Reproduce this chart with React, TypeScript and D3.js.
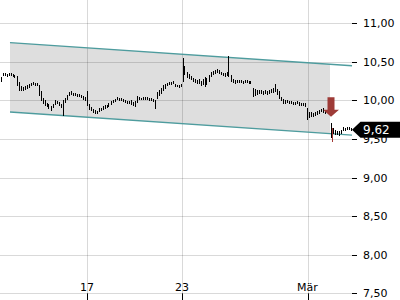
import React from "react";
import * as d3 from "d3";

const W = 400;
const H = 300;

// per-bar highs and lows (index = bar number)
const highs: number[] = [
  10.30, 10.36, 10.36, 10.34, 10.36, 10.36, 10.34, 10.33, 10.32, 10.24,
  10.19, 10.17, 10.19, 10.20, 10.21, 10.23, 10.24, 10.23, 10.23, 10.20,
  10.12, 10.03, 10.01, 9.97, 9.95, 9.93, 9.95, 10.01, 9.99, 9.98,
  9.95, 10.01, 10.03, 10.07, 10.11, 10.12, 10.10, 10.10, 10.08, 10.08,
  10.07, 10.06, 10.04, 10.12, 9.95, 9.92, 9.89, 9.88, 9.86, 9.90,
  9.90, 9.93, 9.94, 9.94, 9.97, 9.99, 10.01, 10.02, 10.04, 10.03,
  10.03, 10.02, 10.01, 9.99, 9.99, 10.01, 9.98, 9.99, 10.06, 10.04,
  10.03, 10.04, 10.04, 10.04, 10.03, 10.03, 10.02, 10.01, 10.11, 10.14,
  10.16, 10.20, 10.21, 10.23, 10.24, 10.24, 10.25, 10.21, 10.20, 10.20,
  10.21, 10.55, 10.45, 10.37, 10.34, 10.32, 10.29, 10.28, 10.27, 10.28,
  10.25, 10.28, 10.30, 10.29, 10.33, 10.37, 10.38, 10.40, 10.41, 10.40,
  10.37, 10.36, 10.36, 10.37, 10.58, 10.33, 10.28, 10.27, 10.27, 10.27,
  10.27, 10.25, 10.27, 10.27, 10.25, 10.25, 10.16, 10.15, 10.14, 10.14,
  10.14, 10.12, 10.14, 10.12, 10.14, 10.15, 10.16, 10.21, 10.15, 10.12,
  10.04, 10.02, 10.01, 10.01, 9.99, 9.99, 9.98, 9.98, 9.99, 9.98,
  9.97, 9.97, 9.97, 9.90, 9.85, 9.85, 9.84, 9.85, 9.86, 9.88,
  9.89, 9.90, 9.86, 9.88, 9.86, 9.71, 9.64, 9.62, 9.60, 9.60,
  9.62, 9.66, 9.64, 9.66, 9.66, 9.64,
];
const lows: number[] = [
  10.24, 10.32, 10.32, 10.30, 10.32, 10.32, 10.30, 10.29, 10.19, 10.12,
  10.12, 10.12, 10.14, 10.15, 10.16, 10.19, 10.20, 10.19, 10.19, 10.06,
  9.99, 9.95, 9.93, 9.92, 9.89, 9.86, 9.90, 9.94, 9.95, 9.93,
  9.90, 9.80, 9.97, 10.01, 10.06, 10.07, 10.06, 10.06, 10.04, 10.04,
  10.03, 10.01, 9.99, 9.93, 9.88, 9.86, 9.84, 9.82, 9.82, 9.85,
  9.86, 9.88, 9.89, 9.90, 9.92, 9.94, 9.97, 9.98, 10.01, 9.99,
  9.99, 9.98, 9.97, 9.95, 9.95, 9.94, 9.93, 9.92, 9.97, 10.01,
  10.01, 10.01, 10.01, 10.01, 9.99, 9.99, 9.98, 9.89, 10.02, 10.06,
  10.08, 10.12, 10.15, 10.19, 10.20, 10.20, 10.21, 10.17, 10.17, 10.16,
  10.17, 10.24, 10.33, 10.29, 10.28, 10.27, 10.24, 10.23, 10.21, 10.21,
  10.19, 10.20, 10.17, 10.20, 10.24, 10.30, 10.33, 10.34, 10.36, 10.34,
  10.33, 10.32, 10.30, 10.32, 10.30, 10.24, 10.23, 10.21, 10.23, 10.23,
  10.23, 10.21, 10.23, 10.23, 10.21, 10.21, 10.04, 10.06, 10.07, 10.08,
  10.08, 10.07, 10.08, 10.07, 10.08, 10.10, 10.10, 10.11, 10.07, 10.02,
  9.99, 9.95, 9.95, 9.97, 9.95, 9.95, 9.94, 9.94, 9.95, 9.93,
  9.93, 9.93, 9.92, 9.75, 9.77, 9.78, 9.78, 9.80, 9.81, 9.82,
  9.85, 9.84, 9.82, 9.84, 9.82, 9.51, 9.57, 9.55, 9.55, 9.54,
  9.57, 9.60, 9.60, 9.62, 9.62, 9.60,
];

const yTicks: number[] = [11.0, 10.5, 10.0, 9.5, 9.0, 8.5, 8.0, 7.5];
const xTickLabels: string[] = ["17", "23", "Mär"];
const xTickIndex: number[] = [43, 90.5, 153.25];

// trend channel [index, top, bottom]
const channelStart: number[] = [4.5, 10.75, 9.85];
const channelEnd: number[] = [175.5, 10.45, 9.55];
const channelFillEndIndex = 164.5;

// sell signal
const signalIndex = 165;
const signalArrowTop = 10.04;
const signalArrowTip = 9.79;
const signalBar: number[] = [165.5, 9.64, 9.46];

const lastPrice = 9.62;
const lastPriceLabel = "9,62";

const FONT = "DejaVu Sans, sans-serif";

export default function App() {
  const plotRight = 352;
  const x = d3.scaleLinear().domain([-0.5, 175.5]).range([0, plotRight]);
  const y = d3.scaleLinear().domain([7.5, 11]).range([293.3, 23.3]);
  const fmt = (v: number) => d3.format(".2f")(v).replace(".", ",");

  const chanAt = (i: number, k: 1 | 2) =>
    channelStart[k] + ((channelEnd[k] - channelStart[k]) * (i - channelStart[0])) / (channelEnd[0] - channelStart[0]);

  const fillPts: [number, number][] = [
    [x(channelStart[0]), y(channelStart[1])],
    [x(channelFillEndIndex), y(chanAt(channelFillEndIndex, 1))],
    [x(channelFillEndIndex), y(chanAt(channelFillEndIndex, 2))],
    [x(channelStart[0]), y(channelStart[2])],
  ];
  const fillPath = d3.line()(fillPts) + "Z";

  const ax = x(signalIndex);
  const ayTop = y(signalArrowTop);
  const ayTip = y(signalArrowTip);
  const headH = 7;
  const arrowPath = [
    `M${ax - 3.5},${ayTop}`,
    `L${ax + 3.5},${ayTop}`,
    `L${ax + 3.5},${ayTip - headH}`,
    `L${ax + 8},${ayTip - headH}`,
    `L${ax},${ayTip}`,
    `L${ax - 8},${ayTip - headH}`,
    `L${ax - 3.5},${ayTip - headH}`,
    "Z",
  ].join(" ");

  const ly = y(lastPrice);
  const labelPath = `M${plotRight},${ly} L${plotRight + 8.5},${ly - 8} L${W},${ly - 8} L${W},${ly + 8} L${plotRight + 8.5},${ly + 8} Z`;

  const crisp = (v: number) => Math.round(v) + 0.5;

  return (
    <svg
      width={W}
      height={H}
      style={{ position: "absolute", left: 0, top: 0, background: "#fff" }}
      fontFamily={FONT}
    >
      {/* channel fill */}
      <path d={fillPath} fill="#dedede" />

      {/* grid */}
      {yTicks.map((t) => (
        <line key={"g" + t} x1={0} x2={plotRight} y1={crisp(y(t))} y2={crisp(y(t))} stroke="#000" strokeOpacity={0.15} />
      ))}
      {xTickIndex.map((t, k) => (
        <line key={"v" + k} x1={crisp(x(t))} x2={crisp(x(t))} y1={0} y2={y(7.5)} stroke="#000" strokeOpacity={0.15} />
      ))}

      {/* channel lines */}
      <line
        x1={x(channelStart[0])}
        y1={y(channelStart[1])}
        x2={x(channelEnd[0])}
        y2={y(channelEnd[1])}
        stroke="#4e9c9e"
        strokeWidth={1.3}
      />
      <line
        x1={x(channelStart[0])}
        y1={y(channelStart[2])}
        x2={x(channelEnd[0])}
        y2={y(channelEnd[2])}
        stroke="#4e9c9e"
        strokeWidth={1.3}
      />

      {/* price bars */}
      <g shapeRendering="crispEdges">
        {highs.map((h, i) => (
          <rect
            key={i}
            x={Math.floor(x(i))}
            width={1}
            y={Math.round(y(h))}
            height={Math.max(1, Math.round(y(lows[i])) - Math.round(y(h)))}
            fill="#000"
          />
        ))}
        <rect
          x={Math.floor(x(signalBar[0]))}
          width={1}
          y={Math.round(y(signalBar[1]))}
          height={Math.round(y(signalBar[2])) - Math.round(y(signalBar[1]))}
          fill="#a33a36"
        />
      </g>

      {/* sell arrow */}
      <path d={arrowPath} fill="#9e3b37" />

      {/* y axis */}
      {yTicks.map((t) => (
        <g key={"t" + t}>
          <line x1={plotRight} x2={plotRight + 5} y1={crisp(y(t))} y2={crisp(y(t))} stroke="#000" />
          <text x={363} y={y(t)} dy="0.36em" fontSize={11} fill="#000">
            {fmt(t)}
          </text>
        </g>
      ))}

      {/* x axis */}
      {xTickIndex.map((t, k) => (
        <g key={"x" + k}>
          <line x1={crisp(x(t))} x2={crisp(x(t))} y1={y(7.5)} y2={300} stroke="#000" />
          <text x={x(t)} y={290.5} textAnchor="middle" fontSize={11} fill="#000">
            {xTickLabels[k]}
          </text>
        </g>
      ))}

      {/* last price label */}
      <path d={labelPath} fill="#000" />
      <text x={363} y={ly} dy="0.36em" fontSize={12} fill="#fff">
        {lastPriceLabel}
      </text>
    </svg>
  );
}
